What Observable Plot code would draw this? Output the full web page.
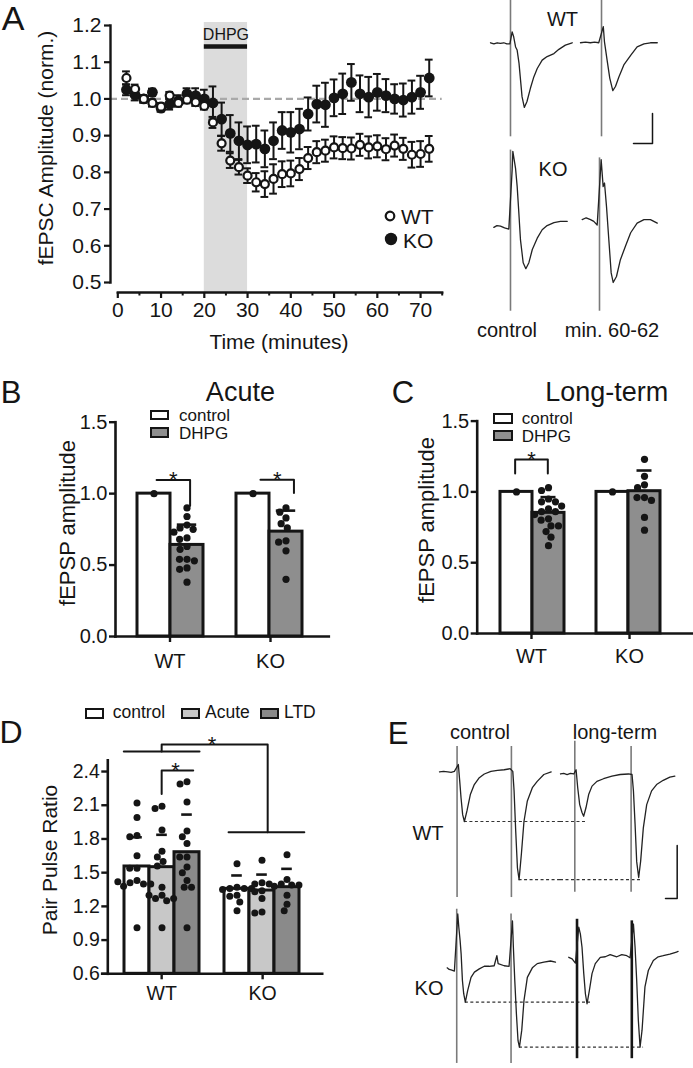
<!DOCTYPE html>
<html>
<head>
<meta charset="utf-8">
<script src="https://cdn.jsdelivr.net/npm/d3@7"></script>
<script src="https://cdn.jsdelivr.net/npm/@observablehq/plot@0.6"></script>
<style>
  html, body { margin: 0; padding: 0; background: #fff; }
  #fig { position: relative; width: 693px; height: 1068px; overflow: hidden; background: #fff;
         font-family: "Liberation Sans", Arial, Helvetica, sans-serif; color: #151515; }
  #fig svg { max-width: none !important; overflow: visible; display: block; }
</style>
</head>
<body>
<div id="fig"></div>
<script>
// ====================== DATA ======================
// Panel A: normalised fEPSC amplitude (mean ± SEM), one point every 2 min
const timeMin = [2,4,6,8,10,12,14,16,18,20,22,24,26,28,30,32,34,36,38,40,42,44,46,48,50,52,54,56,58,60,62,64,66,68,70,72];
const wtMean = [1.057,1.027,1.000,0.989,0.979,1.009,0.989,0.998,0.991,0.981,0.936,0.879,0.832,0.814,0.791,0.773,0.768,0.782,0.795,0.797,0.809,0.839,0.855,0.859,0.868,0.866,0.865,0.875,0.868,0.871,0.863,0.873,0.864,0.848,0.850,0.864];
const wtSem  = [0.018,0.012,0.010,0.010,0.010,0.010,0.010,0.010,0.010,0.010,0.015,0.020,0.020,0.020,0.020,0.025,0.035,0.040,0.035,0.035,0.030,0.030,0.030,0.030,0.030,0.030,0.030,0.030,0.030,0.030,0.030,0.030,0.030,0.035,0.035,0.035];
const koMean = [1.025,1.011,1.000,1.018,0.975,0.986,0.995,1.014,1.009,1.000,0.989,0.945,0.906,0.886,0.875,0.877,0.864,0.886,0.914,0.909,0.918,0.959,0.986,0.984,1.003,1.014,1.045,1.014,1.005,1.018,1.009,1.000,0.997,1.005,1.018,1.057];
const koSem  = [0.015,0.015,0.010,0.010,0.010,0.015,0.015,0.015,0.020,0.025,0.045,0.045,0.050,0.050,0.050,0.050,0.050,0.050,0.050,0.055,0.055,0.045,0.050,0.060,0.050,0.055,0.050,0.050,0.055,0.050,0.045,0.040,0.045,0.045,0.045,0.050];
const drugWindow = [{start: 20, end: 30, label: "DHPG"}];
const aYTicks = [0.5,0.6,0.7,0.8,0.9,1.0,1.1,1.2];
const aXTicks = [0,10,20,30,40,50,60,70];
const aXMinor = [5,15,25,35,45,55,65,75];

// Panel A traces: [time ms, mV]; artifacts: [time ms, top mV, bottom mV]
const aWTcontrol = [[0,0.01],[0.9,-0.01],[1.75,0.01],[2.6,0],[3.5,0.01],[4.3,-0.01],[5.1,-0.01],[5.7,0.19],[6.1,0.11],[6.6,-0.06],[7.0,-0.11],[7.5,-0.33],[7.9,-0.61],[8.3,-0.89],[8.9,-1.07],[9.6,-0.97],[10.5,-0.75],[11.4,-0.56],[12.3,-0.42],[13.6,-0.28],[14.9,-0.22],[16.7,-0.17],[18.0,-0.10],[19.7,-0.03],[21.5,0.01]];
const aWTcontrolArt = [[5.26,0.72,-1.56]];
const aWTlate = [[0,0.01],[1.3,0.02],[2.6,0.01],[3.7,0.02],[4.8,0.01],[6.0,0.28],[6.3,0.03],[7.0,-0.28],[7.7,-0.58],[8.5,-0.79],[9.2,-0.72],[10.1,-0.56],[11.4,-0.36],[13.2,-0.20],[14.9,-0.06],[16.7,-0.01],[18.4,0.01],[20.2,0.01]];
const aWTlateArt = [[5.53,0.72,-1.56]];
const aKOcontrol = [[0.88,0],[1.7,0.03],[2.63,0.02],[3.7,-0.01],[4.82,-0.03],[5.7,0.96],[5.88,1.27],[6.58,0.99],[7.02,0.68],[7.46,0.24],[7.89,-0.21],[8.6,-0.59],[9.3,-0.69],[10.1,-0.59],[11.0,-0.37],[12.3,-0.18],[13.6,-0.04],[14.9,0.03],[16.7,0.08],[18.4,0.10],[20.2,0.10]];
const aKOcontrolArt = [[5.26,1.29,-1.40]];
const aKOlate = [[0.44,0.13],[1.5,0.16],[2.63,0.13],[3.5,0.10],[4.39,0.04],[5.44,1.13],[5.96,0.68],[6.32,0.74],[6.84,0.35],[7.46,-0.21],[8.07,-0.76],[8.6,-0.92],[9.47,-0.82],[10.5,-0.54],[11.8,-0.32],[13.2,-0.09],[14.9,0.07],[16.7,0.13],[18.4,0.13],[20.2,0.07]];
const aKOlateArt = [[5.0,1.16,-1.40]];
const aConds = ["control", "min. 60-62"];
const genotypes = ["WT", "KO"];

// Panel B: acute DHPG effect (normalised fEPSP amplitude)
const bConds = ["control", "DHPG"];
const bMeanWT = [1.0, 0.641];
const bMeanKO = [1.0, 0.734];
const bSdWT = [null, 0.142];
const bSdKO = [null, 0.147];
const bPtsWTcontrol = [1.0];
const bPtsWTdhpg = [0.90,0.84,0.78,0.76,0.75,0.73,0.69,0.68,0.63,0.61,0.54,0.54,0.53,0.48,0.47,0.38];
const bPtsKOcontrol = [1.0];
const bPtsKOdhpg = [0.90,0.87,0.83,0.79,0.76,0.67,0.66,0.60,0.40];

// Panel C: long-term effect
const cMeanWT = [1.0, 0.852];
const cMeanKO = [1.0, 1.005];
const cSdWT = [null, 0.111];
const cSdKO = [null, 0.146];
const cPtsWTcontrol = [1.0];
const cPtsWTdhpg = [1.03,1.01,0.95,0.93,0.93,0.90,0.88,0.86,0.86,0.84,0.81,0.80,0.76,0.76,0.72,0.68,0.62];
const cPtsKOcontrol = [1.0];
const cPtsKOdhpg = [1.23,1.11,1.05,1.03,0.96,0.96,0.94,0.82,0.73];
const bcYTicks = [0, 0.5, 1.0, 1.5];

// Panel D: paired-pulse ratio
const dConds = ["control", "Acute", "LTD"];
const dMeanWT = [1.555, 1.549, 1.682];
const dMeanKO = [1.356, 1.341, 1.371];
const dSdWT = [0.260, 0.288, 0.335];
const dSdKO = [0.119, 0.142, 0.163];
const dPtsWTcontrol = [2.12,1.99,1.83,1.82,1.65,1.54,1.54,1.43,1.41,1.40,1.38,1.40,1.42,1.01];
const dPtsWTacute   = [2.09,2.07,1.88,1.69,1.64,1.60,1.56,1.37,1.30,1.27,1.25,1.27,1.30,1.01];
const dPtsWTltd     = [2.31,2.29,2.13,1.87,1.82,1.76,1.64,1.64,1.55,1.50,1.43,1.37,1.37,1.01];
const dPtsKOcontrol = [1.58,1.37,1.36,1.36,1.36,1.35,1.30,1.29,1.24,1.16];
const dPtsKOacute   = [1.61,1.41,1.40,1.40,1.34,1.33,1.27,1.15,1.14];
const dPtsKOltd     = [1.66,1.44,1.40,1.39,1.39,1.38,1.30,1.22,1.16];
const dYTicks = [0.6, 0.9, 1.2, 1.5, 1.8, 2.1, 2.4];

// Panel E traces (paired pulses): [time ms, mV]; artifacts [time, top, bottom]
const eConds = ["control", "long-term"];
const eWTcontrol = [[0,0],[3.5,0.01],[7.1,0],[10,-0.01],[12.8,0.01],[16.2,0.14],[17.4,-0.18],[18.5,-0.49],[19.9,-0.81],[21.4,-0.94],[23.6,-0.74],[26.5,-0.43],[29.9,-0.24],[34.2,-0.11],[38.5,-0.04],[44.2,0.01],[49.9,0.03],[55.6,0.04],[60.7,0.06],[63.0,0.01],[64.1,-0.36],[65.5,-1.12],[67.0,-1.82],[68.4,-2.04],[70.4,-1.55],[72.6,-0.94],[75.5,-0.55],[79.8,-0.30],[84.0,-0.18],[89.7,-0.05],[96.0,0]];
const eWTcontrolArt = [[15.1,0.48,-2.38],[61.8,0.48,-2.38]];
const eWTlong = [[0,-0.04],[2.8,-0.03],[5.7,-0.05],[8.5,-0.03],[11.4,-0.04],[13.4,0.04],[14.8,-0.30],[16.5,-0.62],[18.5,-0.77],[19.9,-0.84],[21.9,-0.68],[24.2,-0.43],[27.1,-0.27],[31.3,-0.18],[37.0,-0.13],[44.2,-0.08],[51.3,-0.05],[58.4,-0.04],[61.5,-0.05],[62.7,-0.36],[64.1,-0.99],[65.5,-1.70],[67.2,-2.00],[68.9,-1.69],[71.2,-1.06],[74.1,-0.62],[78.3,-0.36],[82.6,-0.24],[88.3,-0.16],[94.0,-0.10],[98.3,-0.08]];
const eWTlongArt = [[12.3,0.58,-2.28],[60.7,0.48,-2.28]];
const eKOcontrol = [[6.6,0],[8.3,-0.03],[10.0,-0.04],[12.8,-0.06],[15.7,1.02],[16.6,0.77],[17.7,0.52],[18.6,0.26],[19.7,-0.24],[20.8,-0.49],[22.2,-0.65],[24.2,-0.43],[27.1,-0.18],[30.0,-0.08],[34.2,-0.02],[38.5,0.03],[42.7,0.03],[47.0,0.04],[49.3,0.23],[50.4,0.08],[55.6,0.04],[59.8,0.03],[62.7,0.89],[63.5,0.39],[64.7,-0.24],[66.1,-0.87],[67.5,-1.38],[68.7,-1.50],[70.7,-1.18],[72.6,-0.62],[75.5,-0.18],[79.8,0],[84.0,0.08],[89.7,0.11],[95.4,0.13],[99.7,0.11]];
const eKOcontrolArt = [[14.8,1.11,-1.81],[61.5,1.02,-1.81]];
const eKOlong = [[7.1,0.20],[10.0,0.17],[12.8,0.09],[15.7,0.77],[17.1,0.64],[18.5,0.39],[20.0,-0.11],[21.4,-0.49],[22.8,-0.68],[24.8,-0.43],[27.1,-0.11],[29.9,0.08],[34.2,0.20],[38.5,0.21],[42.7,0.25],[48.4,0.21],[52.7,0.25],[57.0,0.23],[59.8,0.19],[62.7,0.83],[64.1,0.39],[65.5,-0.24],[66.9,-0.99],[68.4,-1.50],[70.1,-1.18],[72.6,-0.36],[75.5,-0.05],[79.8,0.14],[84.0,0.21],[88.3,0.23],[94.0,0.26],[99.7,0.30],[101.1,0.31]];
const eKOlongArt = [[14.2,0.92,-1.72],[61.3,0.89,-1.72]];

// ====================== HELPERS ======================
const FONT = '"Liberation Sans", Arial, Helvetica, sans-serif';
const INK = "#151515";
const fig = document.getElementById("fig");
const baseStyle = (size) => ({fontFamily: FONT, fontSize: `${size}px`, color: INK, background: "transparent", overflow: "visible", maxWidth: "none"});

function place(node, left, top) {
  const d = document.createElement("div");
  d.style.cssText = `position:absolute;left:${left}px;top:${top}px;line-height:0;`;
  d.appendChild(node);
  fig.appendChild(d);
  return d;
}
function label(str, x, y, size, {anchor = "middle", rotate = false} = {}) {
  const d = document.createElement("div");
  d.textContent = str;
  const tx = anchor === "start" ? "0%" : anchor === "end" ? "-100%" : "-50%";
  d.style.cssText = `position:absolute;left:${x}px;top:${y}px;font-size:${size}px;font-family:${FONT};line-height:1;white-space:nowrap;color:${INK};transform:translate(${tx},-50%)${rotate ? " rotate(-90deg)" : ""};`;
  fig.appendChild(d);
  return d;
}
function boxKey(x, y, w, h, fill) {
  const d = document.createElement("div");
  d.style.cssText = `position:absolute;left:${x}px;top:${y}px;width:${w}px;height:${h}px;box-sizing:border-box;border:2px solid ${INK};background:${fill};`;
  fig.appendChild(d);
}
function dotKey(x, y, r, open) {
  const ns = "http://www.w3.org/2000/svg";
  const s = document.createElementNS(ns, "svg");
  s.setAttribute("width", 20); s.setAttribute("height", 20);
  const c = document.createElementNS(ns, "circle");
  c.setAttribute("cx", 10); c.setAttribute("cy", 10); c.setAttribute("r", r);
  c.setAttribute("fill", open ? "#fff" : INK);
  c.setAttribute("stroke", INK); c.setAttribute("stroke-width", open ? 2.2 : 0);
  s.appendChild(c);
  place(s, x - 10, y - 10);
}

// ====================== PANEL A: time course ======================
const series = (mean, sem) => timeMin.map((t, i) => ({t, v: mean[i], e: sem[i]}));
const wt = series(wtMean, wtSem), ko = series(koMean, koSem);
const capHalf = 0.9;
const errMarks = (data) => [
  Plot.ruleX(data, {x: "t", y1: d => d.v - d.e, y2: d => d.v + d.e, stroke: INK, strokeWidth: 2}),
  Plot.ruleY(data, {y: d => d.v + d.e, x1: d => d.t - capHalf, x2: d => d.t + capHalf, stroke: INK, strokeWidth: 2}),
  Plot.ruleY(data, {y: d => d.v - d.e, x1: d => d.t - capHalf, x2: d => d.t + capHalf, stroke: INK, strokeWidth: 2})
];
const aPlot = Plot.plot({
  width: 450, height: 330,
  marginLeft: 110, marginRight: 8.3, marginTop: 22, marginBottom: 38,
  x: {domain: [0, 75], insetLeft: 7.3},
  y: {domain: [0.5, 1.2], insetTop: 3, insetBottom: 10},
  style: baseStyle(21),
  marks: [
    Plot.rect(drugWindow, {x1: "start", x2: "end", fill: "#dcdcdc"}),
    Plot.ruleY([1], {stroke: "#a9a9a9", strokeWidth: 2.2, strokeDasharray: "7,4"}),
    Plot.ruleY(drugWindow, {x1: "start", x2: "end", y: () => 1.143, stroke: INK, strokeWidth: 4.5}),
    Plot.text(drugWindow, {x: d => (d.start + d.end) / 2, y: () => 1.143, text: "label", dy: -12, fontSize: 16, fill: INK}),
    Plot.frame({anchor: "left", insetTop: 3, insetBottom: 10, stroke: INK, strokeWidth: 2.4}),
    Plot.frame({anchor: "bottom", insetLeft: 7.3, stroke: INK, strokeWidth: 2.4}),
    Plot.axisY({ticks: aYTicks, tickSize: 6, tickPadding: 3, tickFormat: d3.format(".1f"), label: null, stroke: INK, strokeWidth: 2.2}),
    Plot.axisX({ticks: aXTicks, tickSize: 6, tickPadding: 4, label: null, stroke: INK, strokeWidth: 2.2}),
    Plot.axisX({ticks: aXMinor, tickSize: 3.5, tickFormat: () => "", label: null, stroke: INK, strokeWidth: 2}),
    ...errMarks(ko),
    ...errMarks(wt),
    Plot.dot(ko, {x: "t", y: "v", r: 5.4, fill: INK}),
    Plot.dot(wt, {x: "t", y: "v", r: 4.0, fill: "#fff", stroke: INK, strokeWidth: 2.2})
  ]
});
place(aPlot, 0, 0);
label("A", 13, 18, 34);
label("fEPSC Amplitude (norm.)", 45, 148, 21, {rotate: true});
label("Time (minutes)", 279, 341, 21);
dotKey(390, 215.5, 4.3, true);
label("WT", 401, 215.5, 21, {anchor: "start"});
dotKey(391, 239, 6.2, false);
label("KO", 403, 239.5, 21, {anchor: "start"});

// ====================== TRACES (A and E) ======================
function tracePlot({traces, conds, xMax, yTop, pxPerMV, facetW, facetH, left, top, dashes = []}) {
  const pts = traces.flatMap(tr => tr.pts.map(([t, v]) => ({geno: tr.geno, cond: tr.cond, t, v})));
  const arts = traces.flatMap(tr => tr.art.map(([t, hi, lo]) => ({geno: tr.geno, cond: tr.cond, t, hi, lo})));
  const heavy = new Set(["KO|long-term"]);
  const yDomain = [yTop - facetH / pxPerMV, yTop];
  const p = Plot.plot({
    width: facetW * conds.length, height: facetH * genotypes.length, margin: 0,
    fx: {domain: conds, padding: 0, axis: null},
    fy: {domain: genotypes, padding: 0, axis: null},
    x: {domain: [0, xMax], axis: null},
    y: {domain: yDomain, axis: null},
    style: baseStyle(12),
    marks: [
      Plot.ruleY(dashes, {fx: "cond", fy: "geno", y: "v", x1: "t1", x2: "t2", stroke: "#333", strokeWidth: 1.2, strokeDasharray: "3,2.5"}),
      Plot.ruleX(arts, {fx: "cond", fy: "geno", x: "t", y1: "lo", y2: "hi",
        stroke: d => heavy.has(`${d.geno}|${d.cond}`) ? INK : "#7a7a7a",
        strokeWidth: d => heavy.has(`${d.geno}|${d.cond}`) ? 2.6 : 1.6}),
      Plot.line(pts, {fx: "cond", fy: "geno", x: "t", y: "v", stroke: "#222", strokeWidth: 1.3})
    ]
  });
  place(p, left, top);
}
function scaleBar({ms, mV, pxPerMs, pxPerMV, left, top}) {
  const p = Plot.plot({
    width: ms * pxPerMs, height: mV * pxPerMV, margin: 0,
    x: {domain: [0, ms], axis: null}, y: {domain: [0, mV], axis: null},
    style: baseStyle(10),
    marks: [Plot.line([[0, 0], [ms, 0], [ms, mV]], {stroke: INK, strokeWidth: 1.5})]
  });
  place(p, left, top);
}

const aTraces = [
  {geno: "WT", cond: "control", pts: aWTcontrol, art: aWTcontrolArt},
  {geno: "WT", cond: "min. 60-62", pts: aWTlate, art: aWTlateArt},
  {geno: "KO", cond: "control", pts: aKOcontrol, art: aKOcontrolArt},
  {geno: "KO", cond: "min. 60-62", pts: aKOlate, art: aKOlateArt}
];
tracePlot({traces: aTraces, conds: aConds, xMax: 90 / 3.8, yTop: 1.35, pxPerMV: 60, facetW: 90, facetH: 184.3, left: 490, top: -37.7});
scaleBar({ms: 5, mV: 0.5, pxPerMs: 3.8, pxPerMV: 60, left: 632.7, top: 113.3});
label("WT", 562.5, 19, 20);
label("KO", 553, 168.5, 20);
label("control", 507, 330, 20);
label("min. 60-62", 612, 330, 20);

// E traces with dashed reference lines at the control trough amplitudes
const eTraces = [
  {geno: "WT", cond: "control", pts: eWTcontrol, art: eWTcontrolArt},
  {geno: "WT", cond: "long-term", pts: eWTlong, art: eWTlongArt},
  {geno: "KO", cond: "control", pts: eKOcontrol, art: eKOcontrolArt},
  {geno: "KO", cond: "long-term", pts: eKOlong, art: eKOlongArt}
];
const eXMax = 104;
function troughs(tr) {
  const split = tr.art[1][0];
  return [tr.pts.filter(p => p[0] < split), tr.pts.filter(p => p[0] > split)]
    .map(seg => seg.reduce((a, b) => (b[1] < a[1] ? b : a)));
}
const eDashes = [];
for (const g of genotypes) {
  const c = troughs(eTraces.find(d => d.geno === g && d.cond === "control"));
  const l = troughs(eTraces.find(d => d.geno === g && d.cond === "long-term"));
  c.forEach((tc, k) => {
    eDashes.push({geno: g, cond: "control", v: tc[1], t1: tc[0], t2: eXMax});
    eDashes.push({geno: g, cond: "long-term", v: tc[1], t1: 0, t2: l[k][0] + 3});
  });
}
tracePlot({traces: eTraces, conds: eConds, xMax: eXMax, yTop: 1.2, pxPerMV: 53, facetW: 121.7, facetH: 196.7, left: 438.3, top: 707.1, dashes: eDashes});
scaleBar({ms: 10, mV: 1, pxPerMs: 1.17, pxPerMV: 53, left: 665, top: 845});
label("E", 398, 733, 31);
label("control", 480, 731.5, 20);
label("long-term", 615, 732, 20);
label("WT", 428, 833, 20);
label("KO", 429, 988, 20);

// ====================== BAR PANELS (B, C, D) ======================
function barPanel(cfg) {
  const {top, height, marginTop, marginBottom, axisLeft, slotsLeft, slotsRight, axisRight,
         groups, conds, means, sds, pts, fills, yDomain, yTicks, brackets, stars,
         capInset, r, tickFont, xTickPadding, xAxisExtendLeft = 0} = cfg;
  const W = 693;
  const slots = [];
  const groupCenters = [];
  groups.forEach((g, gi) => {
    if (gi) slots.push(`gap${gi}`);
    const start = slots.length;
    conds.forEach(c => slots.push(`${g}|${c}`));
    groupCenters.push({label: g, at: start + (conds.length - 1) / 2});
  });
  const bars = groups.flatMap((g, gi) => conds.map((c, ci) => ({slot: `${g}|${c}`, cond: c, mean: means[gi][ci], sd: sds[gi][ci]})));
  const points = groups.flatMap((g, gi) => conds.flatMap((c, ci) => pts[gi][ci].map(value => ({slot: `${g}|${c}`, value}))));
  const withSd = bars.filter(d => d.sd != null);
  const n = slots.length, step = (slotsRight - slotsLeft) / n;
  const base = yDomain[0];
  const dataPlot = Plot.plot({
    width: W, height, marginTop, marginBottom, marginLeft: slotsLeft, marginRight: W - slotsRight,
    fx: {domain: slots, padding: 0, axis: null},
    y: {domain: yDomain, axis: null},
    color: {domain: conds, range: fills},
    style: baseStyle(tickFont),
    marks: [
      Plot.barY(bars, {fx: "slot", y1: () => base, y2: "mean", fill: "cond", stroke: INK, strokeWidth: 3}),
      Plot.dot(points, Plot.dodgeX({anchor: "middle", padding: 0.3}, {fx: "slot", y: "value", r, fill: INK})),
      Plot.ruleX(withSd, {fx: "slot", y1: "mean", y2: d => d.mean + d.sd, stroke: INK, strokeWidth: 2.6}),
      Plot.tickY(withSd, {fx: "slot", y: d => d.mean + d.sd, insetLeft: capInset, insetRight: capInset, stroke: INK, strokeWidth: 2.6})
    ]
  });
  place(dataPlot, 0, top);

  const idx = (key) => slots.indexOf(key);
  const bracketPts = brackets.flatMap((b, bi) => b.map(([key, off, y]) => ({id: bi, x: idx(key) + off, y})));
  const starPts = stars.map(([key, off, y]) => ({x: idx(key) + off, y}));
  const tickLabel = new Map(groupCenters.map(g => [g.at, g.label]));
  const axisPlot = Plot.plot({
    width: W, height, marginTop, marginBottom, marginLeft: axisLeft, marginRight: W - axisRight,
    x: {domain: [-0.5 - (slotsLeft - axisLeft) / step, n - 0.5 + (axisRight - slotsRight) / step]},
    y: {domain: yDomain},
    style: baseStyle(tickFont),
    marks: [
      Plot.frame({anchor: "left", stroke: INK, strokeWidth: 2.6}),
      Plot.frame({anchor: "bottom", insetLeft: -xAxisExtendLeft, stroke: INK, strokeWidth: 2.6}),
      Plot.axisY({ticks: yTicks, tickSize: 6, tickPadding: 2, tickFormat: d3.format(".1f"), label: null, stroke: INK, strokeWidth: 2.4}),
      Plot.axisX({ticks: groupCenters.map(g => g.at), tickFormat: v => tickLabel.get(v), tickSize: 6, tickPadding: xTickPadding, label: null, stroke: INK, strokeWidth: 2.4}),
      Plot.line(bracketPts, {x: "x", y: "y", z: "id", stroke: INK, strokeWidth: 2}),
      Plot.text(starPts, {x: "x", y: "y", text: () => "*", fontSize: 22, fill: INK})
    ]
  });
  place(axisPlot, 0, top);
}

// Panel B
barPanel({
  top: 400, height: 290, marginTop: 21.7, marginBottom: 54,
  axisLeft: 115, slotsLeft: 136, slotsRight: 303.5, axisRight: 328.3,
  groups: genotypes, conds: bConds,
  means: [bMeanWT, bMeanKO], sds: [bSdWT, bSdKO],
  pts: [[bPtsWTcontrol, bPtsWTdhpg], [bPtsKOcontrol, bPtsKOdhpg]],
  fills: ["#ffffff", "#8e8e8e"],
  yDomain: [0, 1.5], yTicks: bcYTicks,
  brackets: [
    [["WT|control", 0.1, 1.095], ["WT|DHPG", 0.1, 1.095], ["WT|DHPG", 0.1, 0.915]],
    [["KO|control", 0.2, 1.098], ["KO|DHPG", 0.2, 1.098], ["KO|DHPG", 0.2, 1.005]]
  ],
  stars: [["WT|control", 0.6, 1.095], ["KO|control", 0.7, 1.098]],
  capInset: 6.8, r: 3.6, tickFont: 20, xTickPadding: 11
});
label("B", 11, 392, 31);
label("Acute", 240.4, 392, 27);
boxKey(149.8, 409.5, 19.5, 10.5, "#ffffff");
label("control", 179, 414.5, 17, {anchor: "start"});
boxKey(149.8, 427, 19.5, 10.5, "#8e8e8e");
label("DHPG", 179, 432.5, 17, {anchor: "start"});
label("fEPSP amplitude", 67.6, 523, 22, {rotate: true});

// Panel C
barPanel({
  top: 400, height: 290, marginTop: 20.6, marginBottom: 57,
  axisLeft: 476.7, slotsLeft: 498.3, slotsRight: 661.7, axisRight: 693,
  groups: genotypes, conds: bConds,
  means: [cMeanWT, cMeanKO], sds: [cSdWT, cSdKO],
  pts: [[cPtsWTcontrol, cPtsWTdhpg], [cPtsKOcontrol, cPtsKOdhpg]],
  fills: ["#ffffff", "#8e8e8e"],
  yDomain: [0, 1.5], yTicks: bcYTicks,
  brackets: [
    [["WT|control", 0, 1.13], ["WT|control", 0, 1.228], ["WT|DHPG", 0, 1.228], ["WT|DHPG", 0, 1.13]]
  ],
  stars: [["WT|control", 0.5, 1.228]],
  capInset: 8.5, r: 3.6, tickFont: 20, xTickPadding: 9
});
label("C", 403, 392, 31);
label("Long-term", 606.7, 392, 27);
boxKey(493, 413, 19.5, 10.5, "#ffffff");
label("control", 521.8, 418, 17, {anchor: "start"});
boxKey(493, 430, 19.5, 10.5, "#8e8e8e");
label("DHPG", 521.8, 435.5, 17, {anchor: "start"});
label("fEPSP amplitude", 427, 520, 22, {rotate: true});

// Panel D
barPanel({
  top: 720, height: 290, marginTop: 39.8, marginBottom: 36.7,
  axisLeft: 107.3, slotsLeft: 123.3, slotsRight: 300, axisRight: 321.7, xAxisExtendLeft: 5.6,
  groups: genotypes, conds: dConds,
  means: [dMeanWT, dMeanKO], sds: [dSdWT, dSdKO],
  pts: [[dPtsWTcontrol, dPtsWTacute, dPtsWTltd], [dPtsKOcontrol, dPtsKOacute, dPtsKOltd]],
  fills: ["#ffffff", "#c8c8c8", "#8a8a8a"],
  yDomain: [0.6, 2.5], yTicks: dYTicks,
  brackets: [
    [["WT|control", -0.5, 2.578], ["WT|LTD", 0.5, 2.578]],
    [["WT|Acute", 0, 2.578], ["WT|Acute", 0, 2.64], ["KO|Acute", 0.2, 2.64], ["KO|Acute", 0.2, 1.86]],
    [["KO|control", -0.35, 1.86], ["KO|LTD", 0.65, 1.86]],
    [["WT|Acute", 0, 2.20], ["WT|Acute", 0, 2.409], ["WT|LTD", 0.25, 2.409]]
  ],
  stars: [["gap1", 0, 2.64], ["WT|Acute", 0.55, 2.409]],
  capInset: 7.2, r: 3.5, tickFont: 19.5, xTickPadding: 6
});
label("D", 11, 732, 32);
boxKey(85, 708, 19, 10.5, "#ffffff");
label("control", 112.7, 713.3, 17.5, {anchor: "start"});
boxKey(181, 708, 19, 10.5, "#c8c8c8");
label("Acute", 205, 713.3, 17.5, {anchor: "start"});
boxKey(260, 708, 19, 10.5, "#8a8a8a");
label("LTD", 284, 713.3, 17.5, {anchor: "start"});
label("Pair Pulse Ratio", 49, 860, 21, {rotate: true});
</script>
</body>
</html>
